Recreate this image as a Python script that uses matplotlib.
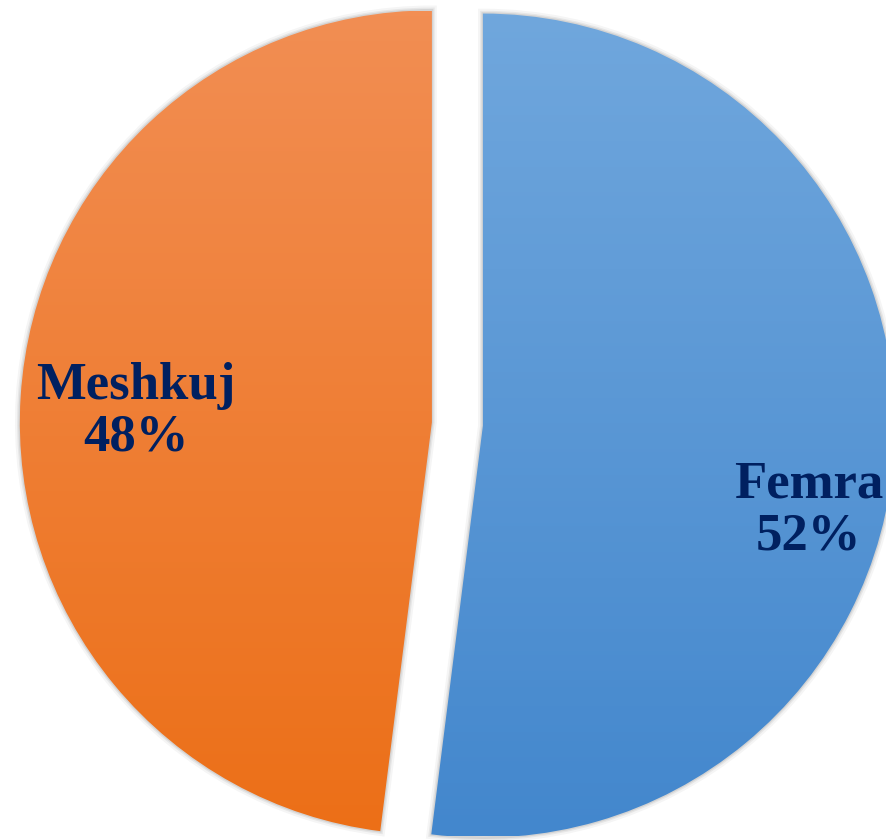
import numpy as np
import matplotlib
matplotlib.use("Agg")
import matplotlib.pyplot as plt
from matplotlib.colors import LinearSegmentedColormap
from matplotlib.patches import PathPatch

# data
categories = ["Femra", "Meshkuj"]
values = [52, 48]

# colours (top -> bottom of each slice)
grad_colors = [("#70a7dd", "#4387cd"), ("#f28e53", "#ec6f17")]
text_color = "#002060"
label_pos = [(0.853, -0.21), (-0.78, 0.03)]

fig = plt.figure(figsize=(8.87, 8.40), dpi=100)
ax = fig.add_axes([0, 0, 1, 1])

wedges, texts = ax.pie(values, labels=[f"{c}\n{v}%" for c, v in zip(categories, values)],
                       startangle=90, counterclock=False, explode=[0.062, 0.062],
                       radius=1.0, labeldistance=0.7,
                       wedgeprops=dict(facecolor="none", edgecolor="none"),
                       textprops=dict(family=["Liberation Serif", "DejaVu Serif"],
                                      fontsize=38, fontweight="bold", color=text_color,
                                      ha="center", va="center", linespacing=1.1))

ax.set_xlim(-1.110, 1.0425)
ax.set_ylim(-1.0097, 1.029)
ax.set_aspect("equal")
ax.axis("off")

# soft shadow and gradient fill
grad = np.linspace(1, 0, 256).reshape(-1, 1)
for w, (c_top, c_bot) in zip(wedges, grad_colors):
    for lw, a in [(7, 0.04), (4, 0.06), (2, 0.08)]:
        sh = PathPatch(w.get_path(), fill=False, edgecolor="black",
                       linewidth=lw, alpha=a, zorder=1)
        ax.add_patch(sh)
    cmap = LinearSegmentedColormap.from_list("g", [c_bot, c_top])
    im = ax.imshow(grad, cmap=cmap, extent=[-1.1, 1.1, -1.0, 1.0],
                   aspect="auto", zorder=2, interpolation="bilinear")
    im.set_clip_path(w)

for t, p in zip(texts, label_pos):
    t.set_position(p)
    t.set_zorder(5)

ax.set_xlim(-1.110, 1.0425)
ax.set_ylim(-1.0097, 1.029)

fig.savefig("out.png", dpi=100)
